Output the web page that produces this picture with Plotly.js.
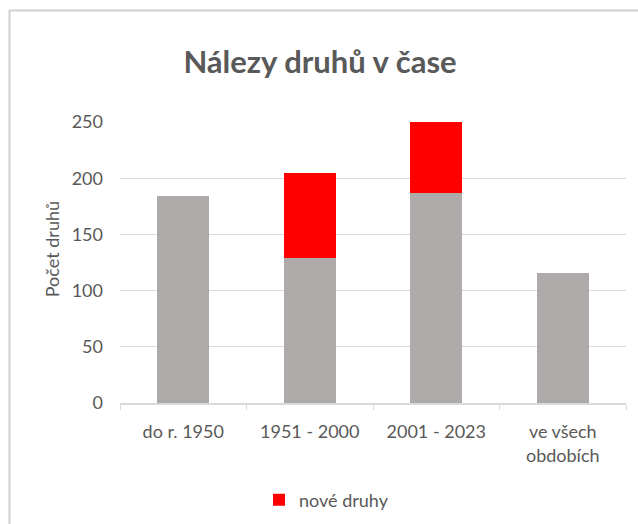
<!DOCTYPE html>
<html>
<head>
<meta charset="utf-8">
<script src="https://cdn.plot.ly/plotly-3.0.1.min.js"></script>
<style>html,body{margin:0;padding:0;background:#fff;}#chart{width:638px;height:524px;}</style>
</head>
<body>
<div id="chart"></div>
<script>
const categories = ["do r. 1950", "1951 - 2000", "2001 - 2023", "ve všech<br>obdobích"];
const baseValues = [184, 129, 187, 116];
const newSpecies = [0, 76, 63, 0];
const baseName = "druhy";
const newName = "nové druhy";
const titleText = "Nálezy druhů v čase";
const yTitleText = "Počet druhů";
const yTicks = [0, 50, 100, 150, 200, 250];

const FONT = "Lato, 'Open Sans', sans-serif";
const TXT = "#595959";
const FS = 18;

const traces = [
  {type: "bar", x: categories, y: baseValues, name: baseName, showlegend: false,
   marker: {color: "#aeaaaa"}, hoverinfo: "x+y"},
  {type: "bar", x: categories, y: newSpecies, name: newName,
   marker: {color: "#ff0000"}, hoverinfo: "x+y"}
];

const layout = {
  width: 638, height: 524,
  margin: {l: 120, r: 12, t: 122, b: 121, pad: 0, autoexpand: false},
  paper_bgcolor: "#ffffff", plot_bgcolor: "#ffffff",
  barmode: "stack", bargap: 0.59,
  font: {family: FONT, color: TXT, size: FS},
  title: {text: "<b>" + titleText + "</b>", x: 0.5016, xanchor: "center", y: 0.882, yanchor: "middle",
          font: {family: FONT, size: 31, color: TXT}},
  xaxis: {type: "category", showline: true, linecolor: "#d9d9d9", linewidth: 1.5, automargin: false,
          ticks: "outside", tickson: "boundaries", ticklen: 5, tickcolor: "#d9d9d9",
          ticklabelstandoff: 12,
          showgrid: false, tickfont: {family: FONT, size: FS, color: TXT}, fixedrange: true},
  yaxis: {range: [0, 250], tickvals: yTicks, showgrid: true, gridcolor: "#d9d9d9", gridwidth: 1.3,
          automargin: false,
          zeroline: false, showline: false, ticks: "", ticklabelstandoff: 16,
          tickfont: {family: FONT, size: FS, color: TXT}, fixedrange: true},
  legend: {orientation: "h", x: (259 - 120) / 506, xanchor: "left", y: -0.345, yanchor: "middle",
           font: {family: FONT, size: FS, color: TXT}, itemwidth: 30, bgcolor: "rgba(0,0,0,0)"},
  annotations: [
    {text: yTitleText, xref: "paper", yref: "paper", x: -0.134, y: 0.548, textangle: -90,
     showarrow: false, xanchor: "center", yanchor: "middle", font: {family: FONT, size: FS, color: TXT}}
  ],
  shapes: [
    {type: "line", xref: "paper", yref: "paper", x0: (9 - 120) / 506, x1: (640 - 120) / 506,
     y0: (403 - 10.5) / 281, y1: (403 - 10.5) / 281, line: {color: "#d0d0d0", width: 2}},
    {type: "line", xref: "paper", yref: "paper", x0: (9.5 - 120) / 506, x1: (9.5 - 120) / 506,
     y0: (403 - 10) / 281, y1: (403 - 526) / 281, line: {color: "#d0d0d0", width: 2}}
  ]
};

Plotly.newPlot("chart", traces, layout, {displayModeBar: false, staticPlot: true});
</script>
</body>
</html>
